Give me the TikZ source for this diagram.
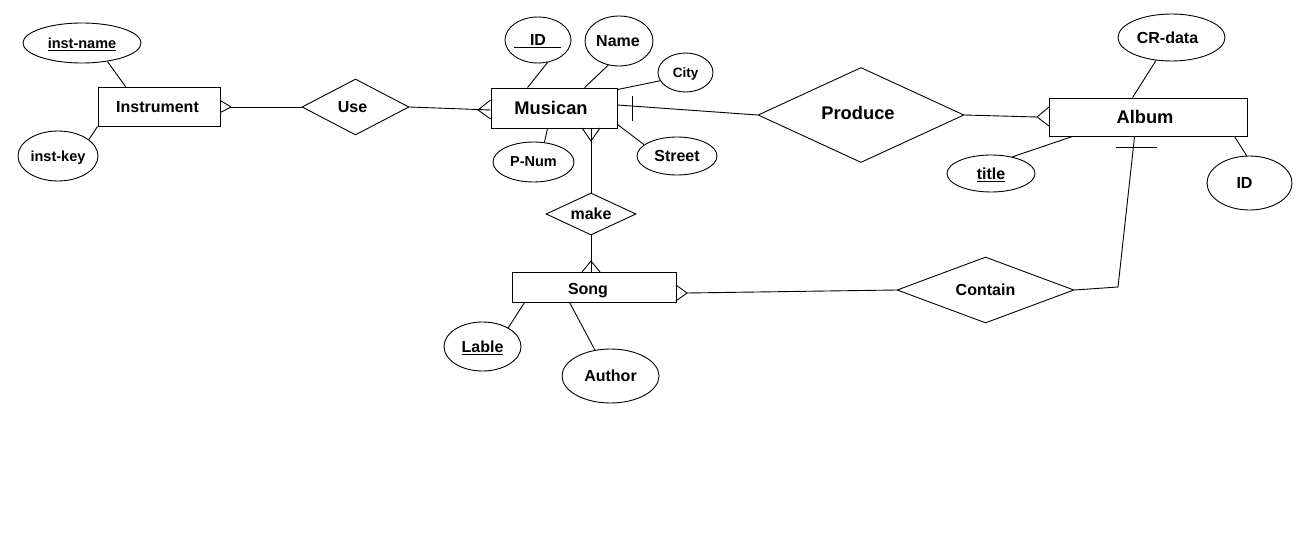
\documentclass[tikz,border=0pt]{standalone}
\usepackage{fontspec}
\setmainfont{Liberation Sans}
\usetikzlibrary{shapes.geometric}
\begin{document}
\begin{tikzpicture}[x=1pt,y=-1pt,line width=0.9pt,
  every node/.style={text depth=0pt},
  ent/.style={draw,rectangle,inner sep=0pt,font=\bfseries\fontsize{16}{18}\selectfont},
  attr/.style={draw,ellipse,inner sep=0pt,font=\bfseries\fontsize{16}{18}\selectfont},
  rel/.style={draw,diamond,inner sep=0pt,font=\bfseries\fontsize{16}{18}\selectfont},
  big/.style={font=\bfseries\fontsize{18.3}{20}\selectfont},
  small/.style={font=\bfseries\fontsize{14.5}{16}\selectfont},
  tiny/.style={font=\bfseries\fontsize{13.5}{15}\selectfont}]
\useasboundingbox[fill=white] (0,0) rectangle (1303,543);

% entities
\node[ent,minimum width=122pt,minimum height=39pt] (instr) at (159,106.5) {\hspace*{-3pt}Instrument};
\node[ent,big,minimum width=126pt,minimum height=40pt] (mus) at (554,108) {\hspace*{-6pt}Musican};
\node[ent,big,minimum width=198pt,minimum height=38pt] (album) at (1148,117) {\hspace*{-6pt}Album};
\node[ent,text height=15.7pt,minimum width=164pt,minimum height=30pt] (song) at (594,287) {\hspace*{-12pt}Song};

% relationships
\node[rel,aspect=1.9,minimum width=107pt,minimum height=56pt] (use) at (355.5,107) {\hspace*{-6pt}Use};
\node[rel,big,text height=9.4pt,aspect=2.2,minimum width=206pt,minimum height=95pt] (produce) at (861,115) {\hspace*{-6pt}Produce};
\node[rel,aspect=2.1,minimum width=90pt,minimum height=42pt] (make) at (591,214) {make};
\node[rel,aspect=2.7,minimum width=177pt,minimum height=66pt] (contain) at (985.5,290) {Contain};

% attributes
\node[attr,small,minimum width=118pt,minimum height=40pt] (instname) at (82,43) {\underline{inst-name}};
\node[attr,small,minimum width=80pt,minimum height=50pt] (instkey) at (58,156) {inst-key};
\node[attr,minimum width=66pt,minimum height=46pt] (mid) at (538,40) {ID};
\node[attr,minimum width=68pt,minimum height=50pt] (mname) at (619,41) {\hspace*{-2pt}Name};
\node[attr,tiny,minimum width=55pt,minimum height=39pt] (city) at (685.5,72.5) {City};
\node[attr,minimum width=80pt,minimum height=38pt] (street) at (677,156) {Street};
\node[attr,small,minimum width=81pt,minimum height=40pt] (pnum) at (533.5,162) {P-Num};
\node[attr,minimum width=107pt,minimum height=47pt] (crdata) at (1171.5,37.5) {\hspace*{-8pt}CR-data};
\node[attr,minimum width=88pt,minimum height=37pt] (title) at (991,173.5) {\underline{title}};
\node[attr,minimum width=85pt,minimum height=54pt] (aid) at (1249.5,183) {\hspace*{-10pt}ID};
\node[attr,minimum width=77pt,minimum height=49pt] (lable) at (482.5,346.5) {\underline{Lable}};
\node[attr,minimum width=97pt,minimum height=54pt] (author) at (610.5,376) {Author};

% ID underline
\draw ([xshift=-24pt,yshift=-7pt]mid.center) -- ([xshift=23pt,yshift=-7pt]mid.center);

% attribute links
\draw (instname.-36) -- ([xshift=28pt]instr.north west);
\draw (instkey.28) -- (instr.south west);
\draw (mid.-67) -- ([xshift=37pt]mus.north west);
\draw (mname.-114) -- ([xshift=94pt]mus.north west);
\draw (city.198) -- ([yshift=-2pt]mus.north east);
\draw (street.161) -- ([yshift=4pt]mus.south east);
\draw (pnum.61) -- ([xshift=57pt]mus.south west);
\draw (crdata.-124) -- ([xshift=84pt]album.north west);
\draw (title.38) -- ([xshift=24pt]album.south west);
\draw (aid.96) -- ([xshift=-13pt]album.south east);
\draw (lable.36) -- ([xshift=13pt]song.south west);
\draw (author.121) -- ([xshift=58pt]song.south west);

% Instrument -- Use -- Musican
\coordinate (cfi) at (231,107);
\draw ([yshift=6pt]instr.east) -- (cfi) -- ([yshift=-6pt]instr.east);
\draw (cfi) -- (use.west);
\coordinate (cfm) at (478,110);
\draw (use.east) -- ([yshift=-2pt]mus.west);
\draw ([yshift=8pt]mus.west) -- (cfm) -- ([yshift=-11pt]mus.west);

% Musican -- make -- Song
\coordinate (cfmb) at (591,141);
\draw (582,128) -- (cfmb) -- (600,128);
\draw (make.north) -- (make.north |- mus.south);
\coordinate (cfs) at (591,261);
\draw (582,272) -- (cfs) -- (600,272);
\draw (make.south) -- (make.south |- song.north);

% Musican -- Produce -- Album
\draw ([yshift=3pt]mus.east) -- (produce.west);
\draw (632,96) -- (632,121);
\coordinate (cfa) at (1037,117);
\draw (produce.east) -- (cfa);
\draw (1049,107) -- (cfa) -- (1049,126);

% Album -- Contain -- Song
\coordinate (bend) at (1118,287);
\draw ([xshift=86pt]album.south west) -- (bend) -- (contain.east);
\draw (1116,147) -- (1157,147);
\coordinate (cfsg) at (687,293);
\draw (contain.west) -- (cfsg);
\draw (676,285) -- (cfsg) -- (676,301);
\end{tikzpicture}
\end{document}
